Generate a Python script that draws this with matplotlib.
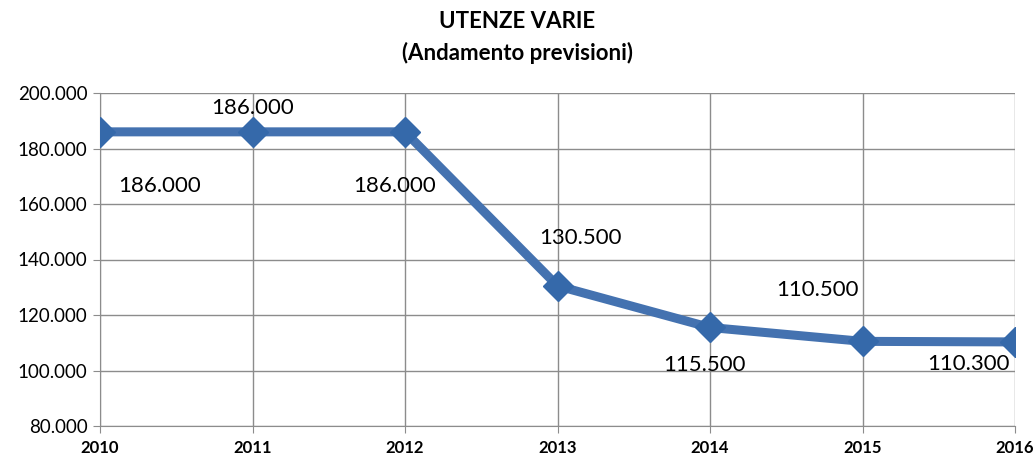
import matplotlib
matplotlib.use("Agg")
import matplotlib.pyplot as plt
from matplotlib.ticker import FuncFormatter

years = [2010, 2011, 2012, 2013, 2014, 2015, 2016]
values = [186000, 186000, 186000, 130500, 115500, 110500, 110300]
label_offsets = [(60, -54), (0, 24), (-10, -54), (23, 48), (-6, -38), (-45, 51), (-47, -22)]

plt.rcParams['font.family'] = ['Lato', 'DejaVu Sans']

def fmt(v):
    return f"{int(v):,}".replace(",", ".")

fig = plt.figure(figsize=(10.35, 4.57), dpi=100)
ax = fig.add_axes([100/1035, 31/457, 915/1035, 333/457])

line_color = "#4472B0"
ax.plot(years, values, color=line_color, linewidth=6.5, solid_capstyle='round', zorder=3)
ax.plot(years, values, linestyle='none', marker='D', markersize=15,
        markerfacecolor="#3569AA", markeredgecolor="#3569AA", zorder=4)

for x, y, (dx, dy) in zip(years, values, label_offsets):
    ax.annotate(fmt(y), (x, y), xytext=(dx, dy), textcoords='offset pixels',
                ha='center', va='center', fontsize=16, color='black', zorder=5)

ax.set_xlim(years[0], years[-1])
ax.set_ylim(80000, 200000)
ax.set_yticks(range(80000, 200001, 20000))
ax.yaxis.set_major_formatter(FuncFormatter(lambda v, p: fmt(v)))
ax.set_xticks(years)
ax.set_xticklabels([str(y) for y in years], fontweight='bold', fontsize=12)
for t in ax.get_yticklabels():
    t.set_fontsize(13.5)

ax.grid(True, color="#8C8C8C", linewidth=1.0)
ax.set_axisbelow(True)
for s in ['top', 'right']:
    ax.spines[s].set_visible(False)
for s in ['left', 'bottom']:
    ax.spines[s].set_color("#8C8C8C")
ax.tick_params(axis='both', color="#8C8C8C", length=5, direction='out')
ax.tick_params(axis='x', pad=5)
ax.tick_params(axis='y', pad=4)

fig.text(0.5, 1 - 22/457, "UTENZE VARIE", ha='center', va='center', fontsize=16, fontweight='bold')
fig.text(0.5, 1 - 53/457, "(Andamento previsioni)", ha='center', va='center', fontsize=16, fontweight='bold')

fig.savefig("out.png", dpi=100)
